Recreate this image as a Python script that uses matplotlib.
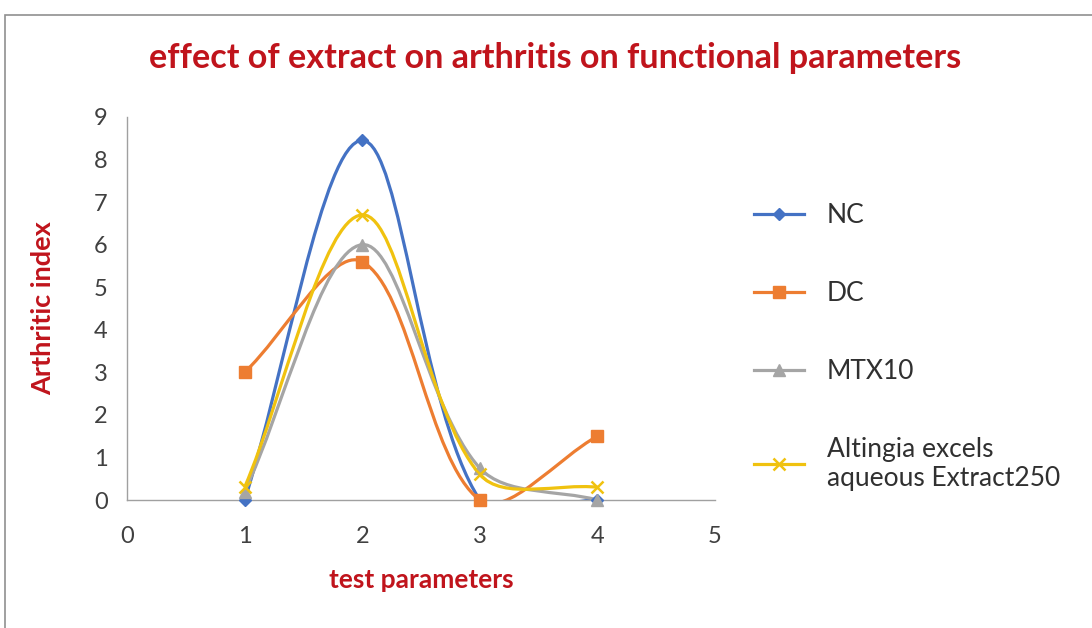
import matplotlib
matplotlib.use("Agg")
import numpy as np
import matplotlib.pyplot as plt
from matplotlib.path import Path
from matplotlib.patches import PathPatch, Rectangle
from matplotlib.lines import Line2D

# data
x_vals = [1, 2, 3, 4]
nc = [0.0, 8.45, 0.0, 0.0]
dc = [3.0, 5.6, 0.0, 1.5]
mtx10 = [0.2, 6.0, 0.75, 0.0]
altingia = [0.3, 6.7, 0.6, 0.3]
labels = ["NC", "DC", "MTX10", "Altingia excels\naqueous Extract250"]
x_ticks = [0, 1, 2, 3, 4, 5]
y_ticks = list(range(0, 10))

cores = ["#4472C4", "#ED7D31", "#A5A5A5", "#F0C20F"]
marcadores = [("D", 6.5, 1), ("s", 9, 1), ("^", 8, 1), ("x", 8, 1.8)]
vermelho = "#C0141C"

plt.rcParams["font.family"] = ["Lato", "DejaVu Sans"]


def caminho_suave(ax, xs, ys):
    """Curva Bezier parecida com a 'linha suavizada' do Excel (em pixels)."""
    pts = ax.transData.transform(np.column_stack([xs, ys]))
    n = len(pts)
    verts = [pts[0]]
    codes = [Path.MOVETO]
    for i in range(n - 1):
        p0 = pts[i - 1] if i > 0 else pts[i]
        p1 = pts[i]
        p2 = pts[i + 1]
        p3 = pts[i + 2] if i + 2 < n else pts[i + 1]
        d01 = np.hypot(*(p1 - p0))
        d12 = np.hypot(*(p2 - p1))
        d23 = np.hypot(*(p3 - p2))
        f1 = d12 / (d01 + d12) / 3 if d01 > 0 else 1 / 3
        f2 = d12 / (d12 + d23) / 3 if d23 > 0 else 1 / 3
        c1 = p1 + (p2 - p0) * f1
        c2 = p2 - (p3 - p1) * f2
        verts += [c1, c2, p2]
        codes += [Path.CURVE4] * 3
    verts = ax.transData.inverted().transform(np.array(verts))
    return Path(verts, codes)


fig = plt.figure(figsize=(10.92, 6.28), dpi=100)
ax = fig.add_axes([0.1163, 0.2038, 0.5385, 0.6099])
ax.set_xlim(0, 5)
ax.set_ylim(0, 9)

series = [nc, dc, mtx10, altingia]
handles = []
for ys, cor, (m, ms, mew) in zip(series, cores, marcadores):
    ax.add_patch(PathPatch(caminho_suave(ax, x_vals, ys), facecolor="none",
                           edgecolor=cor, lw=2.3, zorder=2))
    ax.plot(x_vals, ys, linestyle="none", marker=m, markersize=ms,
            color=cor, markeredgewidth=mew, zorder=3, clip_on=False)
    handles.append(Line2D([0], [0], color=cor, lw=2.3, marker=m,
                          markersize=ms, markeredgewidth=mew))

ax.set_xticks(x_ticks)
ax.set_yticks(y_ticks)
ax.tick_params(length=0, labelsize=17, labelcolor="#404040")
ax.tick_params(axis="x", pad=19)
ax.tick_params(axis="y", pad=14)
for lado in ["top", "right"]:
    ax.spines[lado].set_visible(False)
for lado in ["left", "bottom"]:
    ax.spines[lado].set_color("#A0A0A0")
    ax.spines[lado].set_linewidth(1)

ax.set_ylabel("Arthritic index", color=vermelho, fontsize=19.5,
              fontweight="bold", labelpad=28)
ax.set_xlabel("test parameters", color=vermelho, fontsize=19,
              fontweight="bold", labelpad=15)
fig.text(0.508, 0.908, "effect of extract on arthritis on functional parameters",
         color=vermelho, fontsize=24.6, fontweight="bold", ha="center", va="center")

fig.legend(handles, labels, loc="upper left", bbox_to_anchor=(0.669, 0.714),
           frameon=False, fontsize=19, handlelength=1.9, labelspacing=2.0,
           handletextpad=0.85, labelcolor="#303030")

# moldura externa
fig.add_artist(Rectangle((0.005, -0.05), 1.05, 1.026, transform=fig.transFigure,
                         fill=False, edgecolor="#909090", lw=1.2))

fig.savefig("out.png", dpi=100)
